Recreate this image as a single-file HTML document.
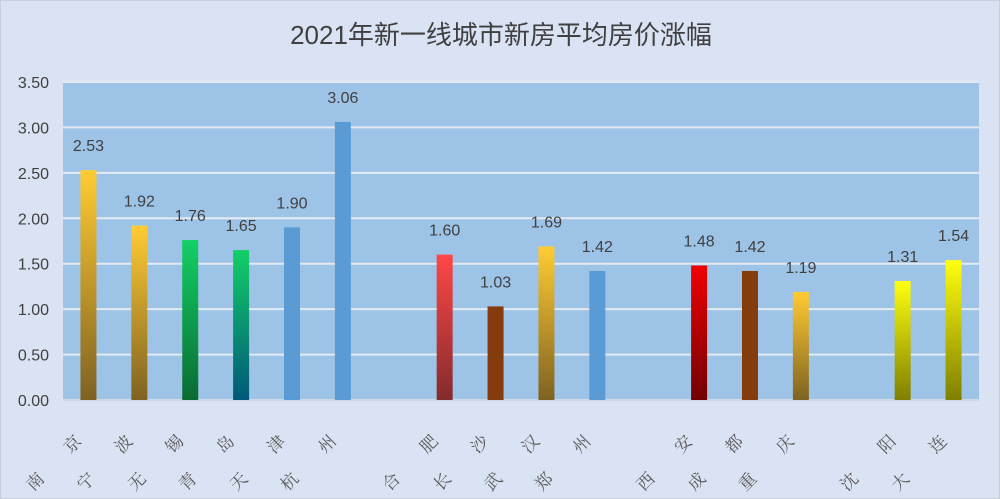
<!DOCTYPE html>
<html><head><meta charset="utf-8"><style>
html,body{margin:0;padding:0;background:#dae3f3;}
#chart{position:relative;width:1000px;height:499px;background:#dae3f3;border:1px solid #c8d0dc;box-sizing:border-box;overflow:hidden;}
#title{position:absolute;left:0;width:1000px;top:14px;text-align:center;font:26px "Liberation Sans","Noto Sans CJK SC",sans-serif;color:#404040;}
</style></head><body>
<div id="chart">
<div id="title">2021年新一线城市新房平均房价涨幅</div>
<svg id="svg" width="1000" height="499" style="position:absolute;left:0;top:0"></svg>
</div>
<script>
const categories=["南京","宁波","无锡","青岛","天津","杭州","","合肥","长沙","武汉","郑州","","西安","成都","重庆","","沈阳","大连"];
const values=[2.53,1.92,1.76,1.65,1.90,3.06,null,1.60,1.03,1.69,1.42,null,1.48,1.42,1.19,null,1.31,1.54];
const colorKeys=["gold","gold","green","teal","blue","blue","","red","brown","gold","blue","","dred","brown","gold","","yel","yel"];
const yTicks=[0,0.5,1,1.5,2,2.5,3,3.5];
const NS="http://www.w3.org/2000/svg";
const svg=document.getElementById('svg');
const X0=62,X1=978,Y0=399,Y1=81,YMAX=3.5;
const slot=(X1-X0)/categories.length;
const xc=i=>X0+slot*(i+0.5);
const y=v=>Y0-(v/YMAX)*(Y0-Y1);
function mk(t,a){const e=document.createElementNS(NS,t);for(const k in a)e.setAttribute(k,a[k]);svg.appendChild(e);return e;}
const defs=document.createElementNS(NS,'defs');svg.appendChild(defs);
const grads={gold:["#ffcc33","#7f6222"],green:["#13cf66","#0a6b33"],teal:["#13cf66","#00587a"],red:["#ff4747","#842b2e"],dred:["#f00000","#720000"],yel:["#ffff10","#7f7f00"]};
for(const k in grads){const g=document.createElementNS(NS,'linearGradient');g.setAttribute('id','g-'+k);g.setAttribute('x1','0');g.setAttribute('y1','0');g.setAttribute('x2','0');g.setAttribute('y2','1');
g.innerHTML='<stop offset="0" stop-color="'+grads[k][0]+'"/><stop offset="1" stop-color="'+grads[k][1]+'"/>';defs.appendChild(g);}
const solid={blue:"#5b9bd5",brown:"#843c0c"};
const plot=mk('rect',{x:X0,y:Y1,width:X1-X0,height:Y0-Y1,fill:'#9dc3e6'});


yTicks.forEach(t=>{
 const l=mk('line',{x1:X0,x2:X1,y1:y(t),y2:y(t),stroke:t===0?'#d0d8e4':'#e4eaf2','stroke-width':t===0?2:2});
 
 
 const tx=mk('text',{x:48,y:y(t)+6,'text-anchor':'end','font-size':16,fill:'#404040','font-family':'Liberation Sans, sans-serif'});
 tx.textContent=t.toFixed(2);
 
 
});
values.forEach((v,i)=>{
 if(v==null)return;
 const k=colorKeys[i];
 const b=mk('rect',{x:xc(i)-8,y:y(v),width:16,height:Y0-y(v),fill:solid[k]||('url(#g-'+k+')')});
 
 
 const t=mk('text',{x:xc(i),y:y(v)-19,'text-anchor':'middle','font-size':16,fill:'#404040','font-family':'Liberation Sans, sans-serif'});
 t.textContent=v.toFixed(2);
 
 
});
categories.forEach((c,i)=>{
 if(!c)return;
 const cx=xc(i)-22,cy=449;
 const t=mk('text',{x:cx,y:cy+6,'text-anchor':'middle','font-size':17,fill:'#595959','letter-spacing':'36','font-family':'Liberation Serif, Noto Serif CJK SC, serif',transform:'rotate(-45 '+cx+' '+cy+')'});
 t.textContent=c;
 
 
});
</script>
</body></html>
